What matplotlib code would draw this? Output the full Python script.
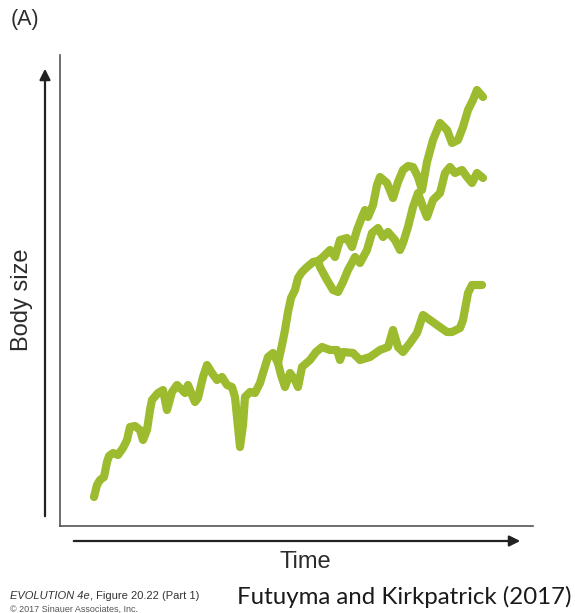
import matplotlib
matplotlib.use("Agg")
import matplotlib.pyplot as plt
from matplotlib import font_manager
from matplotlib.patches import FancyArrowPatch

# Ancestral lineage (time, body size), before the split
stem_time = [34, 37, 40, 44, 47, 49, 53, 58, 63, 67, 70, 75, 80, 83, 87, 90, 92,
             98, 103, 107, 112, 117, 120, 125, 128, 132, 135, 138, 143, 147, 152,
             157, 162, 167, 172, 175, 178, 180, 183, 185, 190, 195, 200, 203, 208,
             213, 218]
stem_size = [29, 41, 46, 49, 64, 70, 73, 71, 78, 86, 99, 100, 96, 86, 96, 116, 126,
             133, 136, 116, 134, 141, 138, 133, 141, 131, 124, 128, 149, 161, 153,
             146, 149, 141, 139, 129, 99, 79, 101, 129, 134, 133, 143, 153, 169,
             173, 163]

# Rapidly rising branch shared by the two upper descendants
rise_time = [218, 222, 225, 228, 231, 235, 238, 242, 246, 253, 258]
rise_size = [163, 181, 196, 214, 228, 236, 248, 254, 258, 264, 265]

# Upper descendant
top_time = [258, 263, 270, 275, 280, 287, 292, 297, 302, 305, 308, 313, 317, 320,
            327, 333, 338, 343, 348, 353, 358, 362, 367, 373, 380, 387, 392, 398,
            403, 408, 413, 417, 423]
top_size = [265, 269, 276, 269, 286, 288, 279, 296, 309, 316, 309, 321, 341, 349,
            343, 328, 344, 356, 360, 359, 349, 336, 364, 386, 403, 396, 383, 386,
            399, 416, 426, 436, 429]

# Middle descendant
mid_time = [258, 260, 267, 273, 278, 283, 288, 295, 300, 307, 312, 318, 323, 328,
            335, 340, 343, 348, 353, 358, 363, 367, 373, 380, 385, 390, 395, 402,
            407, 412, 417, 423]
mid_size = [265, 259, 246, 236, 234, 244, 256, 269, 263, 276, 293, 298, 289, 294,
            286, 276, 283, 299, 319, 333, 319, 309, 326, 333, 353, 359, 353, 356,
            349, 343, 353, 348]

# Lower descendant
low_time = [218, 221, 225, 230, 235, 238, 242, 250, 256, 262, 270, 277, 280, 283,
            293, 300, 310, 320, 328, 333, 338, 343, 350, 357, 363, 370, 377, 387,
            392, 400, 403, 408, 412, 422]
low_size = [163, 151, 139, 153, 146, 139, 159, 166, 174, 179, 176, 176, 166, 174,
            173, 166, 169, 176, 179, 196, 179, 174, 183, 193, 211, 206, 201, 194,
            194, 198, 206, 233, 241, 241]

W, H = 575, 613
fig = plt.figure(figsize=(W / 100, H / 100), dpi=100)
fig.patch.set_facecolor("white")

ax = fig.add_axes([60 / W, 1 - 526 / H, 473 / W, 471 / H])
ax.set_xlim(0, 473)
ax.set_ylim(0, 471)
ax.set_xticks([])
ax.set_yticks([])
for side in ("top", "right"):
    ax.spines[side].set_visible(False)
for side in ("left", "bottom"):
    ax.spines[side].set_color("#555555")
    ax.spines[side].set_linewidth(1.2)

green = "#9cbb2f"
style = dict(color=green, lw=5.9, solid_capstyle="round", solid_joinstyle="round")
ax.plot(stem_time, stem_size, **style)
ax.plot(rise_time, rise_size, **style)
ax.plot(top_time, top_size, **style)
ax.plot(mid_time, mid_size, **style)
ax.plot(low_time, low_size, **style)

# Axis arrows
arrow_kw = dict(arrowstyle="-|>", mutation_scale=16, lw=1.6, color="#222222",
                transform=fig.transFigure)
fig.add_artist(FancyArrowPatch((45 / W, 1 - 519 / H), (45 / W, 1 - 66 / H), **arrow_kw))
fig.add_artist(FancyArrowPatch((71 / W, 1 - 541 / H), (523 / W, 1 - 541 / H), **arrow_kw))

text_color = "#2b2b2b"
fig.text(11 / W, 1 - 20 / H, "(A)", fontsize=15.5, color=text_color,
         family="Liberation Sans", va="center", ha="left")
fig.text(22 / W, 1 - 300 / H, "Body size", fontsize=17, color=text_color,
         family="Liberation Sans", rotation=90, va="center", ha="center")
fig.text(305 / W, 1 - 562 / H, "Time", fontsize=17, color=text_color,
         family="Liberation Sans", va="center", ha="center")
fig.text(237 / W, 1 - 597 / H, "Futuyma and Kirkpatrick (2017)", fontsize=17.3,
         color="#1a1a1a", family="Lato", va="center", ha="left")

names = {f.name for f in font_manager.fontManager.ttflist}
narrow = "Liberation Sans Narrow" if "Liberation Sans Narrow" in names else "Liberation Sans"
stretch = "normal" if narrow == "Liberation Sans Narrow" else "condensed"
credit = fig.text(10 / W, 1 - 596 / H, "EVOLUTION 4e", fontsize=8, style="italic",
                  color="#333333", family=narrow, va="center", ha="left")
fig.canvas.draw()
bb = credit.get_window_extent(renderer=fig.canvas.get_renderer())
fig.text(bb.x1 / W, 1 - 596 / H, ", Figure 20.22 (Part 1)", fontsize=8,
         color="#333333", family=narrow, va="center", ha="left")
fig.text(10 / W, 1 - 609 / H, "\u00a9 2017 Sinauer Associates, Inc.", fontsize=6.5,
         color="#555555", family=narrow, va="center", ha="left")

fig.savefig("out.png", dpi=100, facecolor="white")
